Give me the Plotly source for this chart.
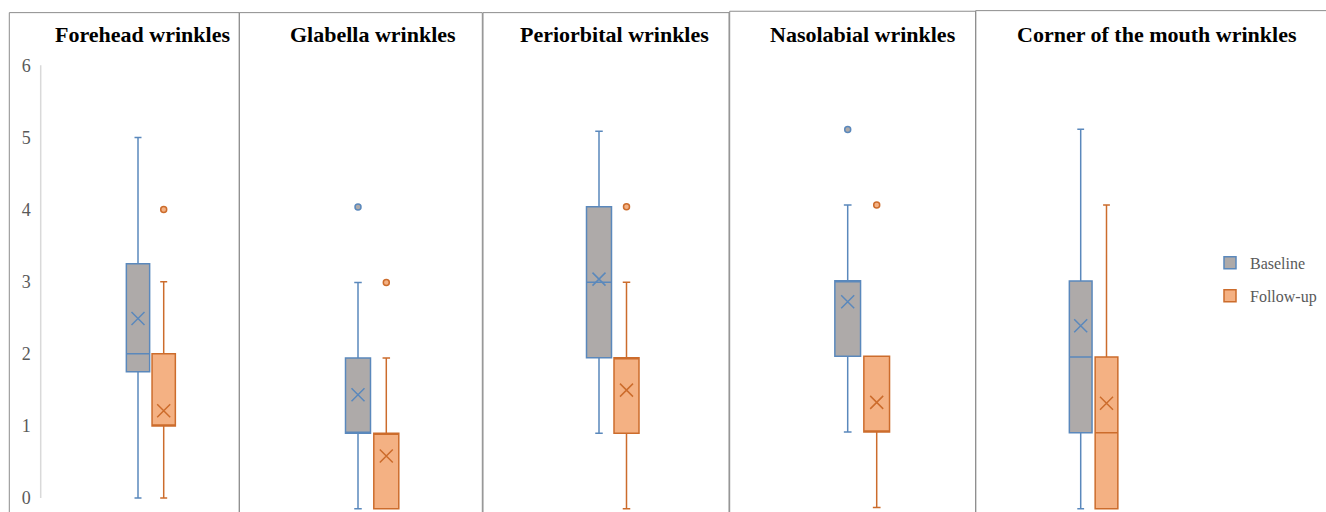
import plotly.graph_objects as go

W, H = 1326, 512

# ---------------- data ----------------
panels = ["Forehead wrinkles", "Glabella wrinkles", "Periorbital wrinkles",
          "Nasolabial wrinkles", "Corner of the mouth wrinkles"]
groups = ["Baseline", "Follow-up"]

base_lower = [0, 0, 1, 1, 0]
base_q1 = [1.75, 1, 2, 2, 1]
base_median = [2, 1, 3, 3, 2]
base_q3 = [3.25, 2, 4, 3, 3]
base_upper = [5, 3, 5, 4, 5]
base_mean = [2.49, 1.51, 3.04, 2.72, 2.41]
base_outliers = [[], [4], [], [5], []]

fu_lower = [0, 0, 0, 0, 0]
fu_q1 = [1, 0, 1, 1, 0]
fu_median = [1, 1, 2, 1, 1]
fu_q3 = [2, 1, 2, 2, 2]
fu_upper = [3, 2, 3, 2, 4]
fu_mean = [1.21, 0.70, 1.57, 1.39, 1.39]
fu_outliers = [[4], [3], [4], [4], []]

y_ticks = [0, 1, 2, 3, 4, 5, 6]

# ---------------- styles / layout geometry (pixels) ----------------
K = 1.008  # vertical correction


def vy(px):
    """pixel row in target -> paper fraction, with a small vertical correction"""
    return (H - px) * K / H


frame_l = [9.3, 239.3, 483.0, 729.7, 975.7]
frame_r = [239.3, 482.3, 729.0, 975.7, 1330.0]
frame_t = [12.7, 12.7, 12.7, 11.3, 10.7]
dom_l = [40.7, 239.3, 483.0, 729.7, 975.7]
dom_r = [239.3, 482.3, 729.0, 975.7, 1326.0]
c_base = [138.0, 358.0, 599.0, 847.7, 1080.7]
c_fu = [163.7, 386.3, 626.5, 876.7, 1106.5]
box_w = [23.3, 25.0, 25.0, 25.7, 22.7]
zero_px = [498.0, 508.7, 508.7, 507.5, 508.7]
ppu = [72.1, 75.4, 75.5, 75.6, 75.9]
title_x = [142.5, 373.3, 614.3, 863.0, 1157.0]
title_y = 35.0
dom_top_px = 60.0

BLUE = "#5A88BC"
GREY = "#AEAAA9"
ORANGE = "#CC6C2C"
ORANGE_FILL = "#F4B183"
FRAME = "#8C8C8C"
TXT = "#595959"
SERIF = "Liberation Serif"

fig = go.Figure()
layout = {}
shapes = []
annotations = []

series = [
    (groups[0], base_lower, base_q1, base_median, base_q3, base_upper, base_mean, base_outliers, BLUE, GREY),
    (groups[1], fu_lower, fu_q1, fu_median, fu_q3, fu_upper, fu_mean, fu_outliers, ORANGE, ORANGE_FILL),
]

dom_top = vy(dom_top_px)

for i in range(len(panels)):
    ax = "" if i == 0 else str(i + 1)
    xa, ya = "x" + ax, "y" + ax
    s = c_fu[i] - c_base[i]
    wunit = box_w[i] / s
    for (name, lo, q1, med, q3, up, mn, outs, lc, fc) in series:
        fig.add_trace(go.Box(
            x=[name], q1=[q1[i]], median=[med[i]], q3=[q3[i]],
            lowerfence=[lo[i]], upperfence=[up[i]],
            name=name, legendgroup=name, showlegend=(i == 0),
            boxpoints=False, width=wunit, whiskerwidth=0.3,
            line=dict(color=lc, width=1.5), fillcolor=fc,
            hoverinfo="skip", xaxis=xa, yaxis=ya,
        ))
        fig.add_trace(go.Scatter(
            x=[name], y=[mn[i]], mode="markers", showlegend=False,
            marker=dict(symbol="x-thin-open", size=13, color=lc, line=dict(color=lc, width=1.5)),
            hoverinfo="skip", xaxis=xa, yaxis=ya,
        ))
        if outs[i]:
            fig.add_trace(go.Scatter(
                x=[name] * len(outs[i]), y=outs[i], mode="markers", showlegend=False,
                marker=dict(symbol="circle", size=6, color=fc, line=dict(color=lc, width=1.5)),
                hoverinfo="skip", xaxis=xa, yaxis=ya,
            ))

    xr = [(dom_l[i] - c_base[i]) / s, (dom_r[i] - c_base[i]) / s]
    # paper fraction of zero and of one unit, then derive the range over [0, dom_top]
    z = vy(zero_px[i])
    u = ppu[i] * K / H
    yr = [-z / u, (dom_top - z) / u]
    layout["xaxis" + ax] = dict(
        domain=[dom_l[i] / W, dom_r[i] / W], range=xr, type="category",
        categoryarray=groups, categoryorder="array",
        showticklabels=False, showgrid=False, zeroline=False, showline=False,
        fixedrange=True, anchor=ya,
    )
    layout["yaxis" + ax] = dict(
        domain=[0, dom_top], range=yr,
        showgrid=False, zeroline=False, showline=False,
        showticklabels=(i == 0), tickvals=y_ticks, ticks="",
        tickfont=dict(family=SERIF, size=18, color=TXT),
        ticklabelstandoff=9, fixedrange=True, anchor=xa,
    )
    # frame of the panel
    shapes.append(dict(type="path", xref="paper", yref="paper",
                       path=f"M {frame_l[i]/W} -0.05 L {frame_l[i]/W} {vy(frame_t[i])} "
                            f"L {frame_r[i]/W} {vy(frame_t[i])} L {frame_r[i]/W} -0.05",
                       line=dict(color=FRAME, width=1), layer="below"))
    annotations.append(dict(
        text=f"<b>{panels[i]}</b>", x=title_x[i] / W, y=vy(title_y),
        xref="paper", yref="paper", xanchor="center", yanchor="middle",
        showarrow=False, font=dict(family=SERIF, size=22, color="#000000"),
    ))

# y axis line of the first panel (0 to 6)
shapes.append(dict(type="line", xref="paper", yref="y",
                   x0=dom_l[0] / W, x1=dom_l[0] / W, y0=y_ticks[0], y1=y_ticks[-1],
                   line=dict(color="#D9D9D9", width=1.5)))

fig.update_layout(
    width=W, height=H, margin=dict(l=0, r=0, t=0, b=0),
    paper_bgcolor="white", plot_bgcolor="rgba(0,0,0,0)",
    font=dict(family=SERIF, color=TXT),
    boxmode="overlay",
    shapes=shapes, annotations=annotations,
    legend=dict(x=1210 / W, y=vy(246), xanchor="left", yanchor="top",
                font=dict(family=SERIF, size=16, color=TXT),
                traceorder="grouped", tracegroupgap=9,
                bgcolor="rgba(0,0,0,0)", itemclick=False),
    **layout,
)

fig.write_html(
    "out.html",
    config={"displayModeBar": False},
    post_script="document.body.style.margin='0';document.body.style.padding='0';document.body.style.overflow='hidden';",
)
